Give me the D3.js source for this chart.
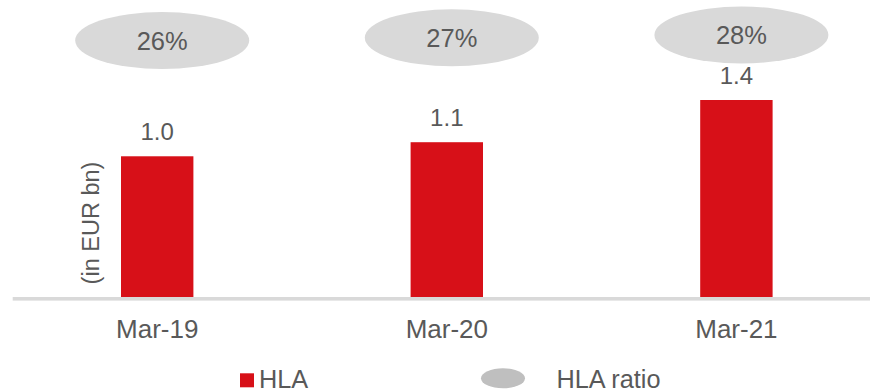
<!DOCTYPE html>
<html>
<head>
<meta charset="utf-8">
<script src="https://cdn.jsdelivr.net/npm/d3@7"></script>
<style>
  html, body { margin: 0; padding: 0; background: #fff; }
  svg { display: block; font-family: "Liberation Sans", Arial, sans-serif; }
</style>
</head>
<body>
<svg id="chart" width="870" height="391"></svg>
<script>
// Categories and series
const categories = ["Mar-19", "Mar-20", "Mar-21"];
const hlaValues = [1.0, 1.1, 1.4];          // EUR bn
const hlaRatio = [26, 27, 28];              // percent
const legendLabels = ["HLA", "HLA ratio"];
const yAxisTitle = "(in EUR bn)";

const W = 870, H = 391;
const textColor = "#595959";
const barColor = "#d71018";
const bubbleColor = "#d9d9d9";

const svg = d3.select("#chart");

const x = d3.scaleBand()
  .domain(categories)
  .range([12.4, 881.2])
  .paddingInner(0.75)
  .paddingOuter(0.375);

const baseY = 297;
const y = d3.scaleLinear().domain([0, 1.4]).range([baseY, 100]);

// secondary scale for the ratio bubbles
const yRatio = d3.scaleLinear().domain([26, 28]).range([40.5, 35]);

// bars
svg.append("g").selectAll("rect")
  .data(categories)
  .join("rect")
  .attr("x", d => x(d))
  .attr("y", (d, i) => y(hlaValues[i]))
  .attr("width", x.bandwidth())
  .attr("height", (d, i) => y(0) - y(hlaValues[i]))
  .attr("fill", barColor);

// value labels
svg.append("g").selectAll("text")
  .data(categories)
  .join("text")
  .attr("x", d => x(d) + x.bandwidth() / 2)
  .attr("y", (d, i) => y(hlaValues[i]) - 16)
  .attr("text-anchor", "middle")
  .attr("font-size", 24)
  .attr("fill", textColor)
  .text((d, i) => d3.format(".1f")(hlaValues[i]));

// baseline axis
svg.append("rect")
  .attr("x", 12.7)
  .attr("y", baseY)
  .attr("width", W - 12.7)
  .attr("height", 3.6)
  .attr("fill", "#d9d9d9");

// category labels
const xAxis = d3.axisBottom(x).tickSize(0).tickPadding(0);
const gx = svg.append("g").attr("transform", `translate(0,${baseY})`).call(xAxis);
gx.select(".domain").remove();
gx.selectAll("text")
  .attr("y", 41)
  .attr("dy", null)
  .attr("font-size", 26)
  .attr("font-family", "Liberation Sans, Arial, sans-serif")
  .attr("fill", textColor);

// ratio bubbles
const bubbleShift = 5;
const bubbles = svg.append("g").selectAll("g")
  .data(categories)
  .join("g")
  .attr("transform", (d, i) =>
    `translate(${x(d) + x.bandwidth() / 2 + bubbleShift},${yRatio(hlaRatio[i])})`);
bubbles.append("ellipse")
  .attr("rx", 87)
  .attr("ry", 28.5)
  .attr("fill", bubbleColor);
bubbles.append("text")
  .attr("y", 9)
  .attr("text-anchor", "middle")
  .attr("font-size", 25.5)
  .attr("fill", textColor)
  .text((d, i) => hlaRatio[i] + "%");

// axis title
svg.append("text")
  .attr("transform", "translate(99,223) rotate(-90)")
  .attr("text-anchor", "middle")
  .attr("font-size", 23.5)
  .attr("fill", textColor)
  .text(yAxisTitle);

// legend
const legend = svg.append("g");
legend.append("rect")
  .attr("x", 240).attr("y", 373.3)
  .attr("width", 14).attr("height", 14)
  .attr("fill", barColor);
legend.append("text")
  .attr("x", 259).attr("y", 387.5)
  .attr("font-size", 25.3)
  .attr("fill", textColor)
  .text(legendLabels[0]);
legend.append("ellipse")
  .attr("cx", 503).attr("cy", 378.3)
  .attr("rx", 22).attr("ry", 10)
  .attr("fill", "#bfbfbf");
legend.append("text")
  .attr("x", 556.5).attr("y", 387.5)
  .attr("font-size", 25.3)
  .attr("fill", textColor)
  .text(legendLabels[1]);
</script>
</body>
</html>
